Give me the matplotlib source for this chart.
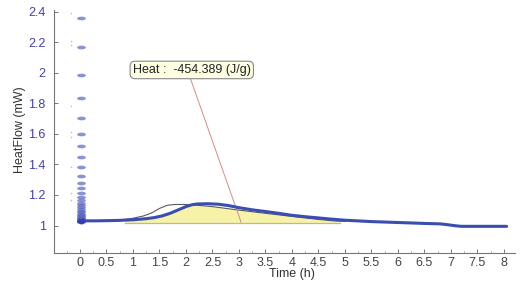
import numpy as np
import matplotlib
matplotlib.use("Agg")
import matplotlib.pyplot as plt
from matplotlib.path import Path
from matplotlib.transforms import Affine2D
from matplotlib.ticker import MultipleLocator

# ---- data ----
# measured heat flow (thick blue line)
time_h = [0.05, 0.1, 0.3, 0.5, 0.75, 1.0, 1.25, 1.4, 1.55, 1.7, 1.85, 2.0, 2.1, 2.2, 2.4, 2.6, 2.8, 3.0,
          3.25, 3.5, 3.75, 4.0, 4.25, 4.5, 4.75, 5.0, 5.5, 6.0, 6.5, 6.8, 6.95, 7.1, 7.2, 7.5, 8.05]
heat_flow = [1.030, 1.031, 1.031, 1.032, 1.034, 1.038, 1.045, 1.052, 1.063, 1.080, 1.102, 1.124, 1.135, 1.141, 1.143, 1.140, 1.131, 1.117,
             1.103, 1.092, 1.080, 1.067, 1.058, 1.050, 1.042, 1.035, 1.026, 1.020, 1.014, 1.011, 1.005, 0.998, 0.995, 0.995, 0.995]

# corrected / reference signal (thin gray line)
ref_time = [0.5, 0.75, 1.0, 1.2, 1.35, 1.5, 1.65, 1.8, 1.95, 2.1, 2.5, 3.0, 3.5, 4.0, 4.5, 4.8, 5.0]
ref_flow = [1.031, 1.036, 1.048, 1.063, 1.082, 1.112, 1.133, 1.138, 1.138, 1.136, 1.124, 1.101, 1.080, 1.060, 1.040, 1.030, 1.027]

# integration baseline
base_time = [0.85, 4.9]
base_flow = [1.020, 1.020]

# initial transient points at t ~ 0
spike_time = 0.02
spike_flow = [2.358, 2.168, 1.988, 1.835, 1.706, 1.600, 1.520, 1.450, 1.385, 1.327, 1.280, 1.247,
              1.216, 1.190, 1.168, 1.150, 1.135, 1.120, 1.108, 1.097, 1.087, 1.078, 1.070, 1.062,
              1.055, 1.049, 1.044, 1.040, 1.036, 1.033, 1.031, 1.029, 1.027, 1.025]
stray_time = -0.16
stray_flow = [2.39, 2.21, 2.18, 1.78, 1.61, 1.58, 1.385, 1.21, 1.17]

annotation_text = "Heat :  -454.389 (J/g)"
x_ticks = [0, 0.5, 1, 1.5, 2, 2.5, 3, 3.5, 4, 4.5, 5, 5.5, 6, 6.5, 7, 7.5, 8]
y_ticks = [1, 1.2, 1.4, 1.6, 1.8, 2, 2.2, 2.4]

plt.rcParams['font.family'] = ['Liberation Sans', 'DejaVu Sans']

fig = plt.figure(figsize=(5.24, 2.82), dpi=100)
ax = fig.add_axes([0.103, 0.102, 0.880, 0.863])

# fill between baseline and min(blue, gray)
fx = np.linspace(base_time[0], base_time[1], 300)
b_i = np.interp(fx, time_h, heat_flow)
g_i = np.interp(fx, ref_time, ref_flow)
top = np.minimum(b_i, g_i)
top = np.maximum(top, base_flow[0])
ax.fill_between(fx, base_flow[0], top, color='#f6f3a8', lw=0, zorder=1)
ax.plot(base_time, base_flow, color='#c9b58c', lw=0.9, zorder=2)

ax.plot(ref_time, ref_flow, color='#5a5a5a', lw=0.8, zorder=3)
ax.plot(time_h, heat_flow, color='#3a4db0', lw=2.2, solid_capstyle='round', solid_joinstyle='round', zorder=4)

# ellipse markers for the transient
ell = Path.unit_circle().transformed(Affine2D().scale(1.0, 0.42))
ax.scatter([spike_time] * len(spike_flow), spike_flow, marker=ell, s=40,
           color='#5866c0', alpha=0.7, lw=0, zorder=5)
ax.plot([0.0, 0.03, 0.06], [1.028, 1.022, 1.030], color='#2f43a8', lw=3.2, zorder=5)
ax.scatter([stray_time] * len(stray_flow), stray_flow, s=1.2, color='#b8b8c8', lw=0, zorder=2)

# annotation with pointer line
ax.plot([2.08, 3.04], [1.966, 1.022], color='#d58a8a', lw=0.7, zorder=3)
ax.text(2.11, 2.018, annotation_text, fontsize=9, ha='center', va='center', color='#222222',
        bbox=dict(boxstyle='round,pad=0.22,rounding_size=0.4', fc='#fdfde2', ec='#888888', lw=0.8),
        zorder=6)

ax.set_xlim(-0.49, 8.21)
ax.set_ylim(0.819, 2.411)
ax.set_xticks(x_ticks)
ax.set_xticklabels([f"{v:g}" for v in x_ticks])
ax.set_yticks(y_ticks)
ax.set_yticklabels([f"{v:g}" for v in y_ticks])
ax.xaxis.set_minor_locator(MultipleLocator(0.25))

for s in ['top', 'right']:
    ax.spines[s].set_visible(False)
for s in ['left', 'bottom']:
    ax.spines[s].set_color('#777777')
    ax.spines[s].set_linewidth(0.8)

ax.tick_params(axis='x', which='major', direction='in', length=3, width=0.7, color='#777777',
               labelsize=9, labelcolor='#444444', pad=3)
ax.tick_params(axis='x', which='minor', direction='in', length=1.5, width=0.6, color='#999999')
ax.tick_params(axis='y', which='major', direction='in', length=3, width=0.7, color='#777777',
               labelsize=9, labelcolor='#4040b0', pad=6)

fig.text(0.038, 0.54, "HeatFlow (mW)", rotation=90, ha='center', va='center', fontsize=9, color='#333333')
fig.text(0.557, 0.028, "Time (h)", ha='center', va='center', fontsize=9, color='#333333')

fig.savefig("out.png", dpi=100)
